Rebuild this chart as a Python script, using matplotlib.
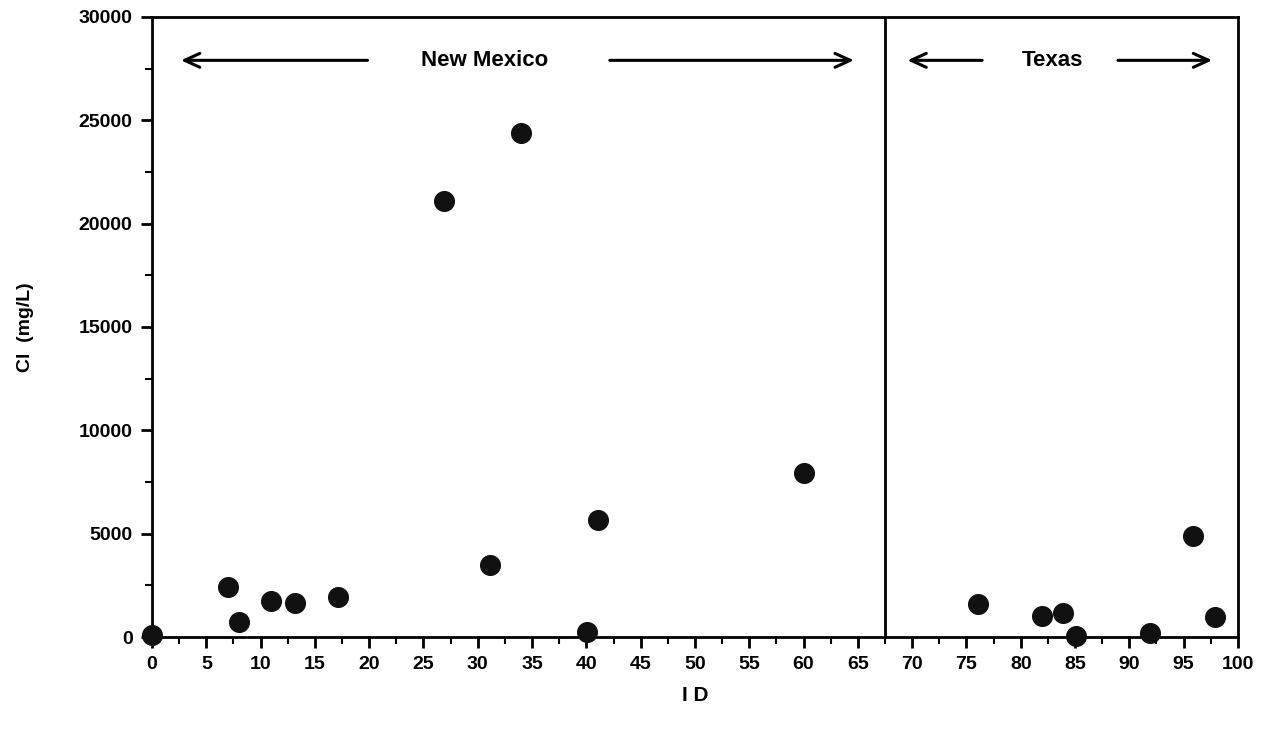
import numpy as np
import matplotlib.pyplot as plt
from matplotlib.ticker import MultipleLocator

plt.rcParams['font.family'] = ['Liberation Sans', 'DejaVu Sans']

# sample ID and chloride (mg/L)
ids = [0, 7, 8, 11, 13.2, 17.1, 26.9, 31.1, 34, 40.1, 41.1, 60,
       76.1, 82, 83.9, 85.1, 91.9, 95.9, 97.9]
cl = [100, 2420, 730, 1740, 1650, 1935, 21100, 3480, 24400, 240, 5660, 7930,
      1600, 1020, 1160, 50, 190, 4890, 970]

state_border = 67.5
x_ticks = np.arange(0, 101, 5)
y_ticks = np.arange(0, 30001, 5000)

fig = plt.figure(figsize=(12.67, 7.36), dpi=100)
ax = fig.add_axes([0.12, 0.1345, 0.857, 0.8425])

ax.scatter(ids, cl, s=200, color='#111111', zorder=3, clip_on=False)
ax.axvline(state_border, color='black', lw=2)

ax.set_xlim(0, 100)
ax.set_ylim(0, 30000)
ax.set_xticks(x_ticks)
ax.set_yticks(y_ticks)
ax.xaxis.set_minor_locator(MultipleLocator(2.5))
ax.yaxis.set_minor_locator(MultipleLocator(2500))
ax.tick_params(which='major', length=8, width=2, labelsize=14, pad=6)
ax.tick_params(which='minor', length=5, width=1.5)
for lab in ax.get_xticklabels() + ax.get_yticklabels():
    lab.set_fontweight('bold')
for sp in ax.spines.values():
    sp.set_linewidth(2)

ax.set_xlabel('I D', fontsize=15, fontweight='bold', labelpad=9)
ax.set_ylabel('Cl  (mg/L)', fontsize=14, fontweight='bold', labelpad=32)

# region labels with arrows
arrow_y = 27900
arr = dict(arrowstyle='->,head_length=1.1,head_width=0.5', lw=2.2, color='black')
ax.text(30.6, arrow_y, 'New Mexico', ha='center', va='center', fontsize=16, fontweight='bold')
ax.annotate('', xy=(2.4, arrow_y), xytext=(20.1, arrow_y), arrowprops=arr)
ax.annotate('', xy=(64.9, arrow_y), xytext=(41.9, arrow_y), arrowprops=arr)
ax.text(82.9, arrow_y, 'Texas', ha='center', va='center', fontsize=16, fontweight='bold')
ax.annotate('', xy=(69.3, arrow_y), xytext=(76.7, arrow_y), arrowprops=arr)
ax.annotate('', xy=(97.9, arrow_y), xytext=(88.7, arrow_y), arrowprops=arr)

fig.savefig('out.png', dpi=100)
